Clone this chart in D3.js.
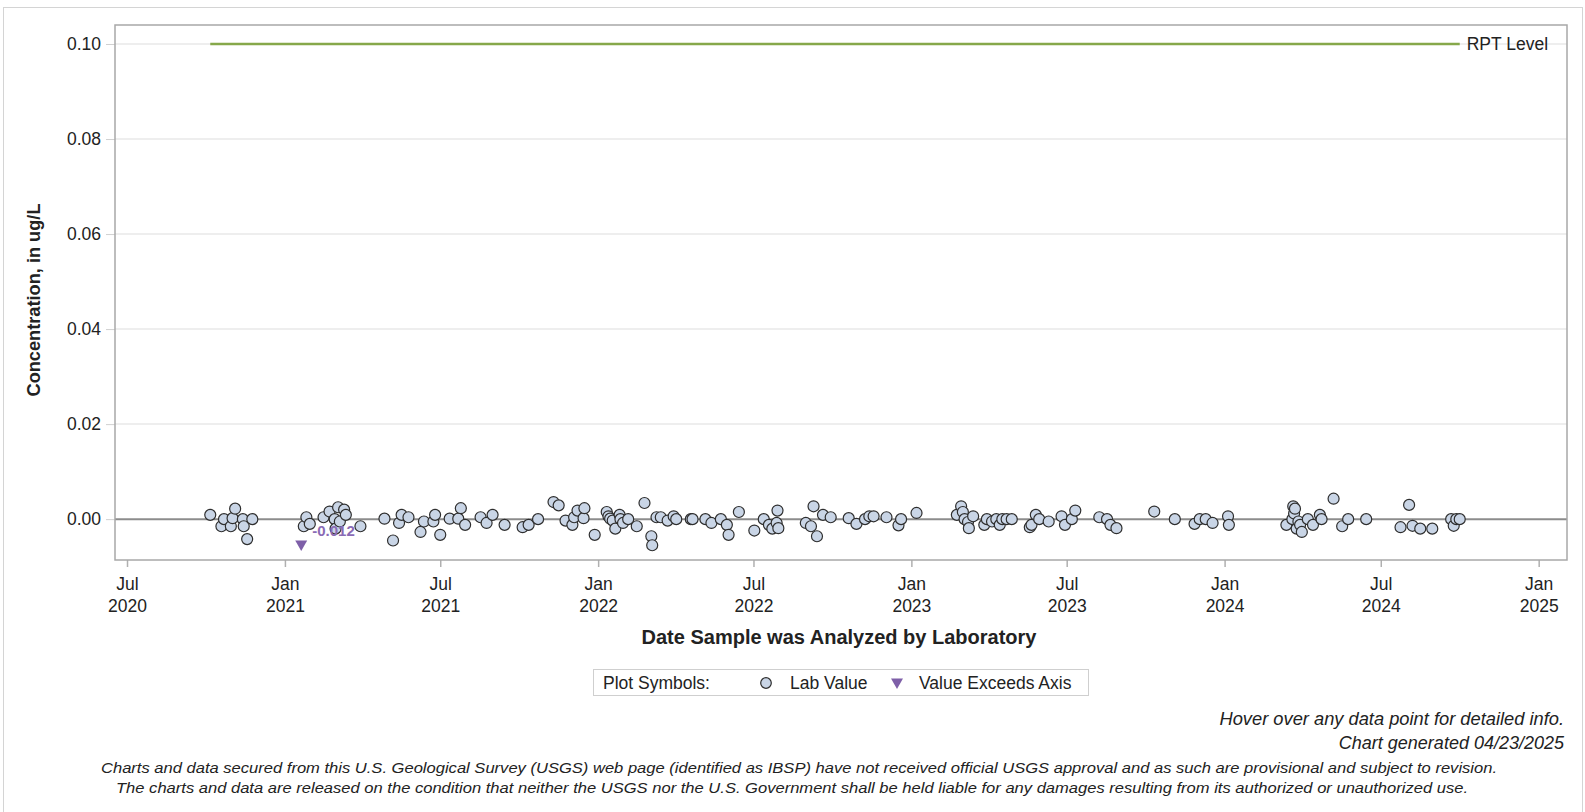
<!DOCTYPE html>
<html>
<head>
<meta charset="utf-8">
<script src="https://cdn.jsdelivr.net/npm/d3@7"></script>
<style>
  body { margin: 0; background: #fff; }
  text { font-family: "Liberation Sans", Arial, sans-serif; fill: #222; }
</style>
</head>
<body>
<svg id="chart" width="1585" height="812"></svg>
<script>
// lab values (date analyzed, concentration in ug/L)
var sampleDates = [
  "2020-10-06","2020-10-19","2020-10-22","2020-10-30","2020-11-01","2020-11-04","2020-11-13","2020-11-14","2020-11-18","2020-11-24",
  "2021-01-23","2021-01-26","2021-01-30","2021-02-15","2021-02-22","2021-02-28","2021-03-01","2021-03-04","2021-03-06","2021-03-11",
  "2021-03-13","2021-03-30","2021-04-27","2021-05-07","2021-05-14","2021-05-17","2021-05-25","2021-06-08","2021-06-12","2021-06-23",
  "2021-06-25","2021-07-01","2021-07-12","2021-07-22","2021-07-25","2021-07-30","2021-08-17","2021-08-24","2021-08-31","2021-09-14",
  "2021-10-05","2021-10-12","2021-10-23","2021-11-10","2021-11-16","2021-11-24","2021-12-02","2021-12-04","2021-12-08","2021-12-15",
  "2021-12-16","2021-12-28","2022-01-11","2022-01-13","2022-01-15","2022-01-18","2022-01-21","2022-01-26","2022-01-27","2022-01-30",
  "2022-02-05","2022-02-15","2022-02-24","2022-03-04","2022-03-05","2022-03-10","2022-03-15","2022-03-23","2022-03-30","2022-04-02",
  "2022-04-19","2022-04-21","2022-05-06","2022-05-13","2022-05-24","2022-05-31","2022-06-02","2022-06-14","2022-07-02","2022-07-13",
  "2022-07-19","2022-07-23","2022-07-28","2022-07-29","2022-07-30","2022-08-31","2022-09-06","2022-09-09","2022-09-13","2022-09-20",
  "2022-09-29","2022-10-20","2022-10-29","2022-11-08","2022-11-13","2022-11-18","2022-12-03","2022-12-17","2022-12-20","2023-01-07",
  "2023-02-23","2023-02-28","2023-03-02","2023-03-04","2023-03-08","2023-03-09","2023-03-14","2023-03-27","2023-03-30","2023-04-05",
  "2023-04-10","2023-04-14","2023-04-17","2023-04-22","2023-04-28","2023-05-19","2023-05-21","2023-05-26","2023-05-30","2023-06-10",
  "2023-06-25","2023-06-29","2023-07-07","2023-07-11","2023-08-08","2023-08-17","2023-08-21","2023-08-28","2023-10-11","2023-11-04",
  "2023-11-27","2023-12-03","2023-12-10","2023-12-18","2024-01-05","2024-01-06","2024-03-13","2024-03-20","2024-03-21","2024-03-22",
  "2024-03-23","2024-03-25","2024-03-27","2024-03-29","2024-03-31","2024-04-07","2024-04-13","2024-04-21","2024-04-23","2024-05-07",
  "2024-05-17","2024-05-24","2024-06-14","2024-07-24","2024-08-03","2024-08-07","2024-08-16","2024-08-30","2024-09-21","2024-09-24",
  "2024-09-27","2024-10-01"
]
var labValues = [
  0.0009,-0.0015,0.0000,-0.0015,0.0002,0.0022,0.0000,-0.0015,-0.0042,0.0000,
  -0.0015,0.0004,-0.0010,0.0004,0.0016,0.0000,-0.0020,0.0025,-0.0005,0.0020,
  0.0009,-0.0015,0.0001,-0.0045,-0.0008,0.0009,0.0004,-0.0027,-0.0005,-0.0005,
  0.0009,-0.0033,0.0001,0.0001,0.0023,-0.0012,0.0004,-0.0008,0.0009,-0.0012,
  -0.0017,-0.0012,0.0000,0.0036,0.0029,-0.0003,-0.0012,0.0004,0.0018,0.0002,
  0.0023,-0.0033,0.0015,0.0006,0.0001,-0.0003,-0.0020,0.0009,0.0000,-0.0008,
  0.0000,-0.0015,0.0034,-0.0036,-0.0055,0.0004,0.0004,-0.0003,0.0006,0.0000,
  0.0000,0.0000,0.0000,-0.0008,0.0000,-0.0012,-0.0033,0.0015,-0.0024,0.0000,
  -0.0012,-0.0020,-0.0008,0.0018,-0.0019,-0.0008,-0.0015,0.0027,-0.0036,0.0009,
  0.0004,0.0002,-0.0010,0.0000,0.0006,0.0006,0.0004,-0.0013,0.0000,0.0013,
  0.0009,0.0027,0.0015,0.0000,-0.0006,-0.0019,0.0006,-0.0012,0.0000,-0.0005,
  0.0000,-0.0012,0.0000,0.0000,0.0000,-0.0017,-0.0012,0.0009,0.0000,-0.0005,
  0.0006,-0.0012,0.0000,0.0018,0.0004,0.0000,-0.0012,-0.0019,0.0016,0.0000,
  -0.0010,0.0000,0.0000,-0.0008,0.0006,-0.0012,-0.0012,0.0000,0.0027,0.0012,
  0.0022,-0.0020,-0.0005,-0.0012,-0.0027,0.0000,-0.0012,0.0009,0.0000,0.0043,
  -0.0015,0.0000,0.0000,-0.0017,0.0030,-0.0014,-0.0020,-0.0020,0.0000,-0.0014,
  0.0000,0.0000
]

// value below the axis minimum
var exceedDates = ["2021-01-20"]
var exceedValues = [-0.012]

var rptLevel = 0.1
var rptLabel = "RPT Level"

var yTicks = [0.00, 0.02, 0.04, 0.06, 0.08, 0.10]
var yDomain = [-0.0086, 0.104]
var xDomain = ["2020-06-17", "2025-02-03"]

var parseDate = d3.timeParse("%Y-%m-%d")

var data = sampleDates.map((d, i) => ({ date: parseDate(d), value: labValues[i] }))
var exceed = exceedDates.map((d, i) => ({ date: parseDate(d), value: exceedValues[i] }))

var dimensions = {
    width: 1585,
    height: 812,
    margin: { top: 25, bottom: 252, left: 115, right: 18 }
}

var svg = d3.select("#chart")

// outer frame
svg.append("rect")
   .attr("x", 3.5).attr("y", 7.5)
   .attr("width", 1579).attr("height", 810)
   .attr("fill", "none")
   .attr("stroke", "#d4d4d4")

var xScale = d3.scaleTime()
               .domain(xDomain.map(parseDate))
               .range([dimensions.margin.left, dimensions.width - dimensions.margin.right])

var yScale = d3.scaleLinear()
               .domain(yDomain)
               .range([dimensions.height - dimensions.margin.bottom, dimensions.margin.top])

var plotLeft = xScale.range()[0], plotRight = xScale.range()[1]
var plotTop = yScale.range()[1], plotBottom = yScale.range()[0]

// gridlines
svg.append("g")
   .selectAll("line")
   .data(yTicks.filter(d => d !== 0))
   .enter()
   .append("line")
   .attr("x1", plotLeft).attr("x2", plotRight)
   .attr("y1", d => yScale(d)).attr("y2", d => yScale(d))
   .attr("stroke", "#e9e9e9")
   .attr("stroke-width", 1.5)

// zero reference line
svg.append("line")
   .attr("x1", plotLeft).attr("x2", plotRight)
   .attr("y1", yScale(0)).attr("y2", yScale(0))
   .attr("stroke", "#8c8c8c")
   .attr("stroke-width", 2)

// y axis
var yAxisGen = d3.axisLeft(yScale).tickValues(yTicks).tickFormat(d3.format(".2f")).tickSize(9).tickPadding(5)
var yAxis = svg.append("g")
               .attr("transform", `translate(${plotLeft},0)`)
               .call(yAxisGen)
yAxis.select(".domain").remove()
yAxis.selectAll("line").attr("stroke", "#d0d0d0")
yAxis.selectAll("text").style("font-size", "17.5px").attr("fill", "#222")
     .style("font-family", '"Liberation Sans", Arial, sans-serif')

// x axis
var xAxisGen = d3.axisBottom(xScale).ticks(d3.timeMonth.every(6)).tickSize(7).tickFormat("")
var xAxis = svg.append("g")
               .attr("transform", `translate(0,${plotBottom})`)
               .call(xAxisGen)
xAxis.select(".domain").remove()
xAxis.selectAll("line").attr("stroke", "#b0b0b0").attr("stroke-width", 1.5)
xAxis.selectAll(".tick").each(function(d) {
    var t = d3.select(this).append("text")
              .attr("text-anchor", "middle")
              .style("font-size", "17.5px")
              .style("font-family", '"Liberation Sans", Arial, sans-serif')
              .attr("fill", "#222")
    t.append("tspan").attr("x", 0).attr("y", 30).text(d3.timeFormat("%b")(d))
    t.append("tspan").attr("x", 0).attr("y", 52).text(d3.timeFormat("%Y")(d))
})

// plot frame
svg.append("rect")
   .attr("x", plotLeft).attr("y", plotTop)
   .attr("width", plotRight - plotLeft).attr("height", plotBottom - plotTop)
   .attr("fill", "none")
   .attr("stroke", "#a8a8a8")
   .attr("stroke-width", 1.5)

// RPT level line spans the sampled period
var dateExtent = d3.extent(data, d => d.date)
svg.append("line")
   .attr("x1", xScale(dateExtent[0])).attr("x2", xScale(dateExtent[1]))
   .attr("y1", yScale(rptLevel)).attr("y2", yScale(rptLevel))
   .attr("stroke", "#86a84a")
   .attr("stroke-width", 2.5)

svg.append("text")
   .attr("x", xScale(dateExtent[1]) + 7)
   .attr("y", yScale(rptLevel) + 6)
   .style("font-size", "17.5px")
   .text(rptLabel)

// lab values
svg.append("g")
   .selectAll("circle")
   .data(data)
   .enter()
   .append("circle")
   .attr("cx", d => xScale(d.date))
   .attr("cy", d => yScale(d.value))
   .attr("r", 5.5)
   .attr("fill", "#c9d5e6")
   .attr("stroke", "#2e2e2e")
   .attr("stroke-width", 1.2)

// values beyond the axis
var triangle = d3.symbol().type(d3.symbolTriangle).size(62)
var exceedY = plotBottom - 16
svg.append("g")
   .selectAll("path")
   .data(exceed)
   .enter()
   .append("path")
   .attr("d", triangle)
   .attr("transform", d => `translate(${xScale(d.date)},${exceedY}) rotate(180)`)
   .attr("fill", "#7e5fa8")

svg.append("g")
   .selectAll("text")
   .data(exceed)
   .enter()
   .append("text")
   .attr("x", d => xScale(d.date) + 11)
   .attr("y", exceedY - 8)
   .style("font-size", "15px")
   .style("font-weight", "bold")
   .style("fill", "#8a6bb5")
   .text(d => d3.format(".3f")(d.value).replace("−", "-"))

// axis titles
svg.append("text")
   .attr("transform", "rotate(-90)")
   .attr("x", -300)
   .attr("y", 40)
   .attr("text-anchor", "middle")
   .style("font-size", "18.2px")
   .style("font-weight", "bold")
   .text("Concentration, in ug/L")

svg.append("text")
   .attr("x", (plotLeft + plotRight) / 2 - 2)
   .attr("y", 644)
   .attr("text-anchor", "middle")
   .style("font-size", "20px")
   .style("font-weight", "bold")
   .text("Date Sample was Analyzed by Laboratory")

// legend
var legend = svg.append("g")
legend.append("rect")
      .attr("x", 593.5).attr("y", 669.5)
      .attr("width", 495).attr("height", 26)
      .attr("fill", "#fff")
      .attr("stroke", "#cfcfcf")
legend.append("text").attr("x", 603).attr("y", 689).style("font-size", "17.5px").text("Plot Symbols:")
legend.append("circle").attr("cx", 766).attr("cy", 683).attr("r", 5.3)
      .attr("fill", "#c9d5e6").attr("stroke", "#2e2e2e").attr("stroke-width", 1.2)
legend.append("text").attr("x", 790).attr("y", 689).style("font-size", "17.5px").text("Lab Value")
legend.append("path").attr("d", triangle)
      .attr("transform", "translate(897,682) rotate(180)")
      .attr("fill", "#7e5fa8")
legend.append("text").attr("x", 919).attr("y", 689).style("font-size", "17.5px").text("Value Exceeds Axis")

// notes
svg.append("text")
   .attr("x", 1564).attr("y", 725)
   .attr("text-anchor", "end")
   .style("font-size", "18.3px").style("font-style", "italic")
   .text("Hover over any data point for detailed info.")

svg.append("text")
   .attr("x", 1564).attr("y", 749)
   .attr("text-anchor", "end")
   .style("font-size", "18px").style("font-style", "italic")
   .text("Chart generated 04/23/2025")

svg.append("text")
   .attr("x", 101).attr("y", 773)
   .attr("textLength", 1396)
   .attr("lengthAdjust", "spacingAndGlyphs")
   .style("font-size", "15px").style("font-style", "italic")
   .text("Charts and data secured from this U.S. Geological Survey (USGS) web page (identified as IBSP) have not received official USGS approval and as such are provisional and subject to revision.")

svg.append("text")
   .attr("x", 116).attr("y", 793)
   .attr("textLength", 1352)
   .attr("lengthAdjust", "spacingAndGlyphs")
   .style("font-size", "15px").style("font-style", "italic")
   .text("The charts and data are released on the condition that neither the USGS nor the U.S. Government shall be held liable for any damages resulting from its authorized or unauthorized use.")
</script>
</body>
</html>
